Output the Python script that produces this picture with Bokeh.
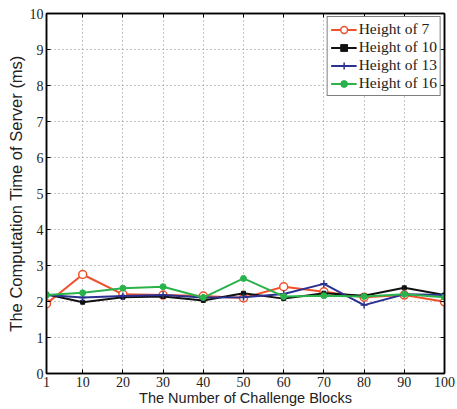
from bokeh.plotting import figure
from bokeh.models import FixedTicker, LinearAxis, Range1d
from bokeh.embed import file_html
from bokeh.resources import INLINE

blocks = [1, 10, 20, 30, 40, 50, 60, 70, 80, 90, 100]
h7 = [1.94, 2.75, 2.20, 2.18, 2.15, 2.10, 2.41, 2.27, 2.12, 2.18, 1.99]
h10 = [2.20, 1.98, 2.12, 2.14, 2.03, 2.23, 2.08, 2.23, 2.16, 2.38, 2.18]
h13 = [2.18, 2.11, 2.15, 2.18, 2.11, 2.12, 2.21, 2.49, 1.90, 2.20, 2.18]
h16 = [2.18, 2.24, 2.37, 2.41, 2.11, 2.64, 2.14, 2.16, 2.14, 2.20, 2.12]
x_ticks = [1, 10, 20, 30, 40, 50, 60, 70, 80, 90, 100]
y_ticks = list(range(0, 11))

p = figure(width=457, height=409, output_backend="svg", toolbar_location=None,
           x_range=Range1d(1, 100), y_range=Range1d(0, 10),
           min_border_left=46, min_border_right=13, min_border_top=13, min_border_bottom=36)

p.outline_line_color = "black"
p.outline_line_width = 1.5
p.background_fill_color = "white"
p.border_fill_color = "white"

for ax in (p.xaxis[0], p.yaxis[0]):
    ax.major_tick_in = 4
    ax.major_tick_out = 0
    ax.minor_tick_in = 0
    ax.minor_tick_out = 0
    ax.axis_line_width = 1.5
    ax.major_label_text_font = "Liberation Serif"
    ax.major_label_text_font_size = "14px"
    ax.axis_label_text_font = "Liberation Sans"
    ax.axis_label_text_font_style = "normal"
    ax.major_label_text_color = "#222222"
    ax.axis_label_text_color = "#222222"

p.xaxis.axis_label_text_font_size = "14.5px"
p.yaxis.axis_label_text_font_size = "16.5px"
p.xaxis.ticker = FixedTicker(ticks=x_ticks)
p.yaxis.ticker = FixedTicker(ticks=y_ticks)
p.xaxis.axis_label = "The Number of Challenge Blocks"
p.yaxis.axis_label = "The Computation Time of Server (ms)"
p.xaxis.major_label_standoff = 3
p.yaxis.major_label_standoff = 3
p.xaxis.axis_label_standoff = 0
p.yaxis.axis_label_standoff = 2

for loc in ("right", "above"):
    ticks = y_ticks if loc == "right" else x_ticks
    ax = LinearAxis(ticker=FixedTicker(ticks=ticks))
    ax.major_tick_in = 4
    ax.major_tick_out = 0
    ax.minor_tick_in = 0
    ax.minor_tick_out = 0
    ax.axis_line_width = 1.5
    ax.major_label_overrides = {t: "" for t in ticks}
    ax.major_label_standoff = 0
    p.add_layout(ax, loc)

p.grid.grid_line_color = "#8a8a8a"
p.grid.grid_line_dash = "1 3"
p.grid.grid_line_width = 1
p.xgrid.ticker = FixedTicker(ticks=x_ticks)
p.ygrid.ticker = FixedTicker(ticks=y_ticks)

red = "#f0502a"
blk = "#111111"
blu = "#2b3190"
grn = "#2bb34b"

p.line(blocks, h7, color=red, line_width=2, legend_label="Height of 7")
p.scatter(blocks, h7, marker="circle", size=8, line_color=red, fill_color="white", line_width=1.5,
          legend_label="Height of 7")
p.line(blocks, h10, color=blk, line_width=2, legend_label="Height of 10")
p.scatter(blocks, h10, marker="square", size=4, line_color=blk, fill_color=blk,
          legend_label="Height of 10")
p.line(blocks, h13, color=blu, line_width=2, legend_label="Height of 13")
p.scatter(blocks, h13, marker="cross", size=7, line_color=blu, line_width=1.5,
          legend_label="Height of 13")
p.line(blocks, h16, color=grn, line_width=2, legend_label="Height of 16")
p.scatter(blocks, h16, marker="circle", size=6, line_color=grn, fill_color=grn,
          legend_label="Height of 16")

p.legend.location = "top_right"
p.legend.label_text_font = "Liberation Serif"
p.legend.label_text_font_size = "15.5px"
p.legend.label_text_color = "#222222"
p.legend.border_line_color = "black"
p.legend.border_line_width = 1.5
p.legend.margin = 3
p.legend.padding = 3
p.legend.spacing = 0
p.legend.label_height = 17
p.legend.glyph_height = 17
p.legend.glyph_width = 26
p.legend.label_standoff = 2

open("out.html", "w").write(file_html(p, INLINE))
